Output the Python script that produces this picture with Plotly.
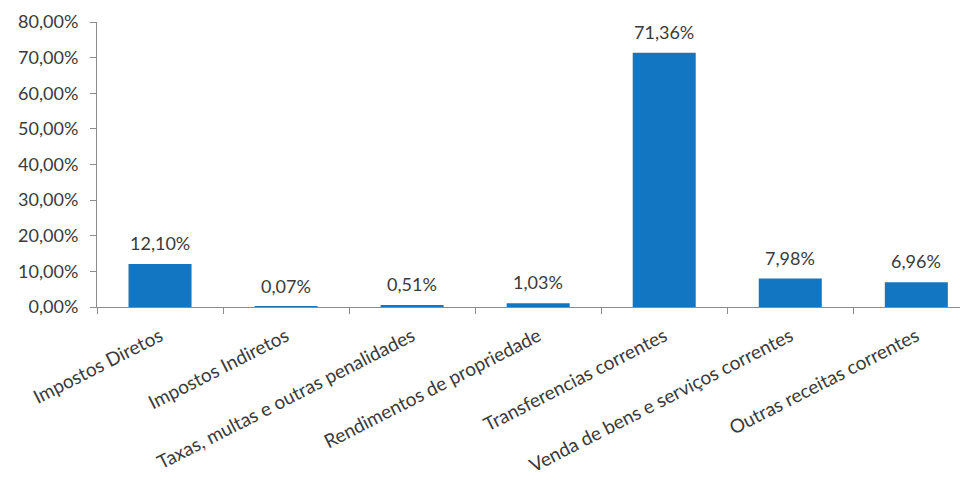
import plotly.graph_objects as go

categories = [
    "Impostos Diretos",
    "Impostos Indiretos",
    "Taxas, multas e outras penalidades",
    "Rendimentos de propriedade",
    "Transferencias correntes",
    "Venda de bens e serviços correntes",
    "Outras receitas correntes",
]
values = [12.10, 0.07, 0.51, 1.03, 71.36, 7.98, 6.96]
ytick_vals = [0, 10, 20, 30, 40, 50, 60, 70, 80]
ytick_text = ["0,00%", "10,00%", "20,00%", "30,00%", "40,00%", "50,00%", "60,00%", "70,00%", "80,00%"]
labels = [f"{v:.2f}%".replace(".", ",") for v in values]

FONT = "Lato, 'Open Sans', sans-serif"
TXT = "#3a3a3a"

fig = go.Figure()
fig.add_trace(go.Bar(
    x=categories, y=values,
    width=0.5,
    marker=dict(color="#1276c2", line=dict(width=0)),
    hoverinfo="skip",
))

for c, v, t in zip(categories, values, labels):
    fig.add_annotation(x=c, y=v, text=t, showarrow=False, yanchor="bottom",
                       yshift=8, font=dict(family=FONT, size=18, color=TXT))

fig.update_layout(
    width=960, height=474,
    margin=dict(l=89, r=0, t=14, b=175),
    paper_bgcolor="white", plot_bgcolor="white",
    showlegend=False,
    bargap=0.5,
)
fig.update_xaxes(
    type="category", range=[-0.5, 6.41], autorange=False,
    showline=True, linecolor="#8c8c8c", linewidth=1,
    ticks="outside", tickson="boundaries", ticklen=6, tickcolor="#8c8c8c",
    tickangle=-27, tickfont=dict(family=FONT, size=19, color=TXT),
    ticklabelstandoff=10,
    showgrid=False, automargin=False,
)
fig.update_yaxes(
    range=[0, 80], autorange=False,
    tickmode="array", tickvals=ytick_vals, ticktext=ytick_text,
    showline=True, linecolor="#8c8c8c", linewidth=1,
    ticks="outside", ticklen=6, tickcolor="#8c8c8c",
    tickfont=dict(family=FONT, size=18, color=TXT),
    ticklabelstandoff=8,
    showgrid=False, zeroline=False, automargin=False,
)

fig.write_html("out.html")
